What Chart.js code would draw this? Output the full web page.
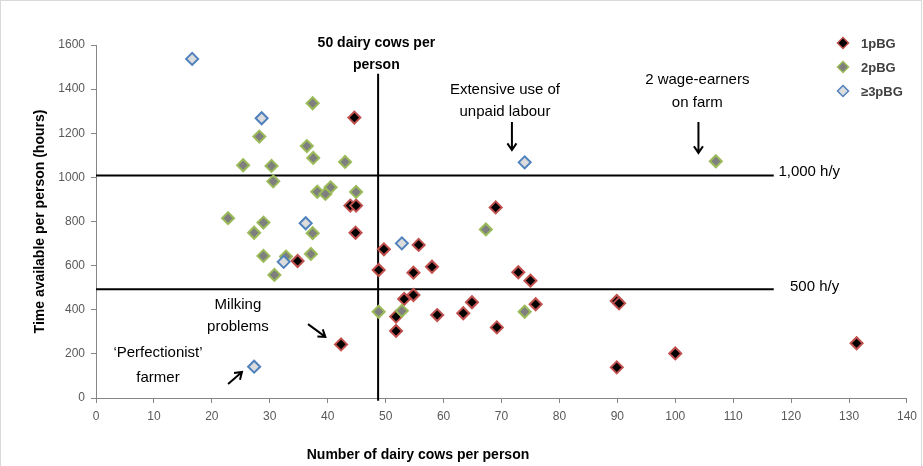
<!DOCTYPE html>
<html><head><meta charset="utf-8">
<script src="https://cdn.jsdelivr.net/npm/chart.js@4.4.0/dist/chart.umd.min.js"></script>
<style>html,body{margin:0;padding:0;background:#fff;}</style>
</head><body>
<canvas id="c" width="923" height="466"></canvas>
<script>
// ---- data ----
const seriesNames = ['1pBG', '2pBG', '\u22653pBG'];
const cows1  = [44.6,43.9,44.9,44.8,34.8,49.7,55.7,48.8,54.8,58.0,69.0,72.9,75.0,54.8,53.2,64.9,63.4,58.9,75.9,51.8,51.8,69.2,89.9,90.3,100.0,89.9,131.3,42.3];
const hours1 = [1271,872,872,749,621,674,694,580,568,595,864,570,532,467,449,434,384,376,425,369,304,320,440,429,202,139,248,243];
const cows2  = [37.4,28.2,36.4,37.5,43.0,25.4,30.3,30.6,38.2,40.5,39.6,44.9,22.8,28.9,27.3,37.4,28.9,32.8,37.1,30.8,67.3,48.8,52.8,74.0,107.0];
const hours2 = [1336,1185,1142,1088,1070,1055,1052,982,935,955,925,934,815,795,749,747,644,641,653,558,764,391,395,391,1073];
const cows3  = [16.6,28.6,36.2,32.4,52.8,74.0,27.3];
const hours3 = [1537,1268,792,617,701,1068,142];
const xTicks = [0,10,20,30,40,50,60,70,80,90,100,110,120,130,140];
const yTicks = [0,200,400,600,800,1000,1200,1400,1600];
// reference lines (data units)
const hourLines = [1008, 493];
const hourLineEnd = 117;
const cowLine = 48.7;
const cowLineRange = [-12, 1470];

const pts = (xs, ys) => xs.map((x, i) => ({x: x, y: ys[i]}));

const FONT = "'Liberation Sans', Arial, sans-serif";

function arrow(ctx, x1, y1, x2, y2) {
  const a = Math.atan2(y2 - y1, x2 - x1), L = 8, w = 0.6;
  ctx.beginPath();
  ctx.moveTo(x1, y1); ctx.lineTo(x2, y2);
  ctx.moveTo(x2 - L*Math.cos(a - w), y2 - L*Math.sin(a - w));
  ctx.lineTo(x2, y2);
  ctx.lineTo(x2 - L*Math.cos(a + w), y2 - L*Math.sin(a + w));
  ctx.stroke();
}

const decor = {
  id: 'decor',
  afterDraw(chart) {
    const ctx = chart.ctx, xs = chart.scales.x, ys = chart.scales.y;
    const X = v => xs.getPixelForValue(v), Y = v => ys.getPixelForValue(v);
    ctx.save();
    // frame
    ctx.strokeStyle = '#d9d9d9'; ctx.lineWidth = 1;
    ctx.strokeRect(0.5, 0.5, 921, 470);
    // annotations
    ctx.fillStyle = '#000'; ctx.textAlign = 'center'; ctx.textBaseline = 'middle';
    ctx.font = 'bold 14px ' + FONT;
    ctx.fillText('50 dairy cows per', X(48.4), Y(1609));
    ctx.fillText('person', X(48.4), Y(1510));
    ctx.font = '15px ' + FONT;
    ctx.fillText('Extensive use of', X(70.6), Y(1396));
    ctx.fillText('unpaid labour', X(70.6), Y(1296));
    ctx.fillText('2 wage-earners', X(103.8), Y(1441));
    ctx.fillText('on farm', X(103.8), Y(1337));
    ctx.fillText('Milking', X(24.5), Y(422));
    ctx.fillText('problems', X(24.5), Y(322));
    ctx.fillText('\u2018Perfectionist\u2019', X(10.7), Y(204));
    ctx.fillText('farmer', X(10.7), Y(91));
    ctx.textAlign = 'left';
    ctx.fillText('1,000 h/y', X(117.8), Y(1024));
    ctx.fillText('500 h/y', X(119.8), Y(503));
    // arrows
    ctx.strokeStyle = '#000'; ctx.lineWidth = 2;
    arrow(ctx, X(71.8), Y(1251), X(71.8), Y(1124));
    arrow(ctx, X(104.0), Y(1251), X(104.0), Y(1111));
    arrow(ctx, X(36.6), Y(335), X(39.6), Y(277));
    arrow(ctx, X(22.8), Y(63), X(25.2), Y(118));
    // x title
    ctx.font = 'bold 14px ' + FONT; ctx.textAlign = 'center';
    ctx.fillText('Number of dairy cows per person', 418, 455);
    // legend
    const lx = 843, ly0 = 43, dy = 24;
    chart.data.datasets.slice(0, 3).forEach((ds, i) => {
      const cy = ly0 + i*dy;
      ctx.beginPath();
      ctx.moveTo(lx, cy - 5.5); ctx.lineTo(lx + 5.5, cy); ctx.lineTo(lx, cy + 5.5); ctx.lineTo(lx - 5.5, cy); ctx.closePath();
      ctx.fillStyle = ds.backgroundColor; ctx.fill();
      ctx.strokeStyle = ds.borderColor; ctx.lineWidth = 1.5; ctx.stroke();
      ctx.fillStyle = '#404040'; ctx.textAlign = 'left';
      ctx.font = 'bold 13px ' + FONT;
      ctx.fillText(ds.label, 861, cy + 1);
    });
    ctx.restore();
  }
};

const lineDs = (data) => ({
  type: 'line', data: data, showLine: true, borderColor: '#000', borderWidth: 2,
  pointRadius: 0, fill: false, clip: false, order: 5
});

new Chart(document.getElementById('c'), {
  type: 'scatter',
  data: {
    datasets: [
      { label: seriesNames[0], data: pts(cows1, hours1), pointStyle: 'rectRot', pointRadius: 6,
        backgroundColor: '#000000', borderColor: '#c0504d', borderWidth: 2, order: 3 },
      { label: seriesNames[1], data: pts(cows2, hours2), pointStyle: 'rectRot', pointRadius: 6,
        backgroundColor: '#7f7f7f', borderColor: '#9bbb59', borderWidth: 2, order: 2 },
      { label: seriesNames[2], data: pts(cows3, hours3), pointStyle: 'rectRot', pointRadius: 6,
        backgroundColor: '#dcdcdc', borderColor: '#4f81bd', borderWidth: 2, order: 1 },
      lineDs([{x: 0, y: hourLines[0]}, {x: hourLineEnd, y: hourLines[0]}]),
      lineDs([{x: 0, y: hourLines[1]}, {x: hourLineEnd, y: hourLines[1]}]),
      lineDs([{x: cowLine, y: cowLineRange[0]}, {x: cowLine, y: cowLineRange[1]}])
    ]
  },
  options: {
    responsive: false, animation: false, devicePixelRatio: 1,
    layout: { padding: { top: 45, right: 16, left: 0, bottom: 0 } },
    plugins: { legend: { display: false }, tooltip: { enabled: false } },
    scales: {
      x: {
        type: 'linear', min: 0, max: 140,
        afterBuildTicks: s => { s.ticks = xTicks.map(v => ({value: v})); },
        afterFit: s => { s.height = 68; },
        grid: { drawOnChartArea: false, tickLength: 5, color: '#868686' },
        border: { color: '#868686' },
        ticks: { color: '#595959', font: { family: FONT, size: 12 }, padding: 6, maxRotation: 0,
                 callback: v => String(v) }
      },
      y: {
        type: 'linear', min: 0, max: 1600,
        afterBuildTicks: s => { s.ticks = yTicks.map(v => ({value: v})); },
        afterFit: s => { s.width = 96; },
        grid: { drawOnChartArea: false, tickLength: 5, color: '#868686' },
        border: { color: '#868686' },
        ticks: { color: '#595959', font: { family: FONT, size: 12 }, padding: 6,
                 callback: v => String(v) },
        title: { display: true, text: 'Time available per person (hours)', color: '#000',
                 font: { family: FONT, size: 14, weight: 'bold' }, padding: { top: 32, bottom: 0 } }
      }
    }
  },
  plugins: [decor]
});
</script>
</body></html>
